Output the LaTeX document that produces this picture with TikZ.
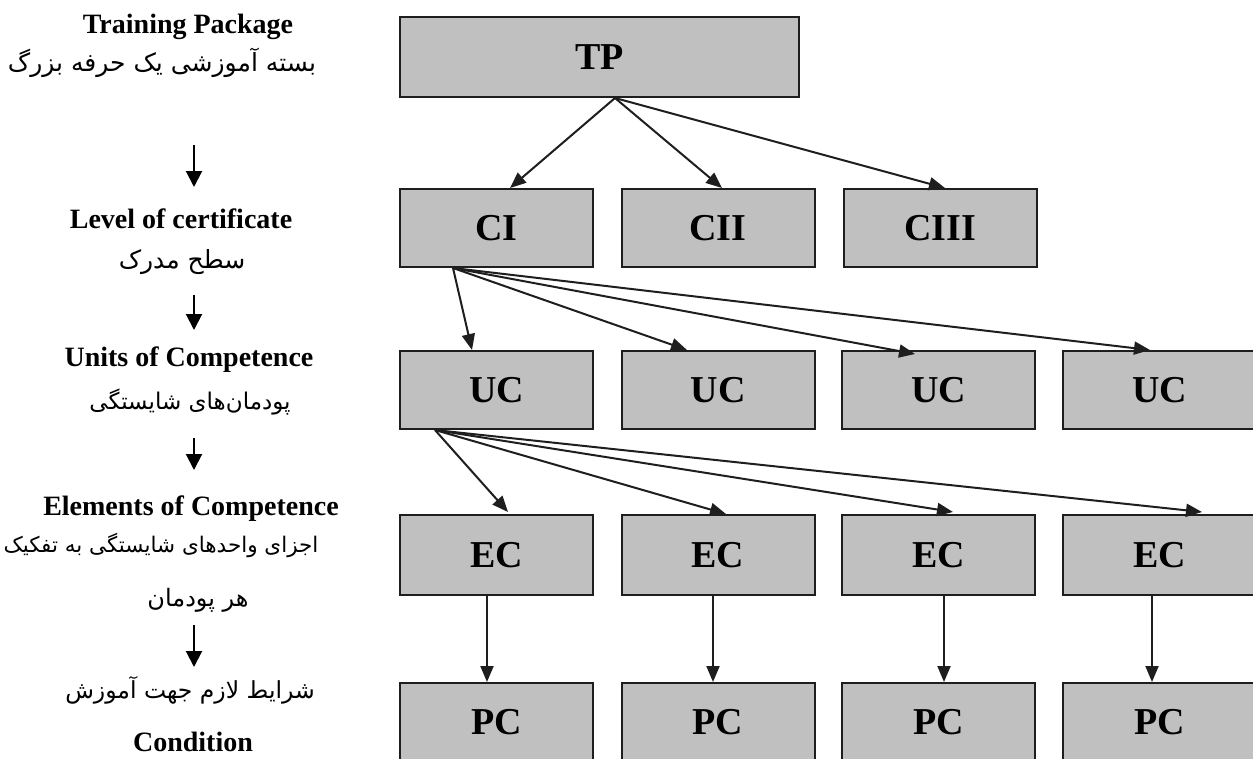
\documentclass[tikz,border=0pt]{standalone}
\usepackage{fontspec}
\setmainfont{Liberation Serif}
\newfontfamily\fa[Script=Arabic]{DejaVu Sans}
\TeXXeTstate=1
\usetikzlibrary{arrows.meta}
\definecolor{boxgray}{RGB}{192,192,192}
\definecolor{edgec}{RGB}{30,30,30}
\begin{document}
\begin{tikzpicture}[x=1pt,y=-1pt,
  box/.style={draw=edgec, line width=2pt, fill=boxgray, minimum width=193pt, minimum height=78pt, inner sep=0pt, font=\fontsize{38}{40}\selectfont\bfseries},
  en/.style={font=\fontsize{28}{32}\selectfont\bfseries, inner sep=0pt},
  fa/.style={font=\fontsize{#1}{26}\selectfont\fa, inner sep=0pt},
  fa/.default=24,
  conn/.style={line width=2pt, draw=edgec, -{Triangle[length=16pt,width=13pt]}},
  lead/.style={line width=2pt, draw=black, -{Triangle[length=16pt,width=16pt]}}]
\useasboundingbox (0,0) rectangle (1253,758);
\clip (0,0) rectangle (1253,758);
% left column
\node[en] (tpEn) at (188,27) {Training Package};
\node[fa=25] (tpFa) at (162,63) {\beginR بسته آموزشی یک حرفه بزرگ\endR};
\node[en] (lcEn) at (181,219) {Level of certificate};
\node[fa=25] (lcFa) at (182,262) {\beginR سطح مدرک\endR};
\node[en] (ucEn) at (189,360) {Units of Competence};
\node[fa=23] (ucFa) at (190,402) {\beginR پودمان‌های شایستگی\endR};
\node[en] (ecEn) at (191,509) {Elements of Competence};
\node[fa=21.5] (ecFa) at (161,545) {\beginR اجزای واحدهای شایستگی به تفکیک\endR};
\node[fa=24] (ecFb) at (198,600) {\beginR هر پودمان\endR};
\node[fa=23.5] (cdFa) at (190,690) {\beginR شرایط لازم جهت آموزش\endR};
\node[en] (cdEn) at (193,742) {Condition};
\coordinate (l1a) at (194,145); \coordinate (l1b) at (194,187);
\coordinate (l2a) at (194,295); \coordinate (l2b) at (194,330);
\coordinate (l3a) at (194,438); \coordinate (l3b) at (194,470);
\coordinate (l4a) at (194,625); \coordinate (l4b) at (194,667);
\draw[lead] (l1a) -- (l1b);
\draw[lead] (l2a) -- (l2b);
\draw[lead] (l3a) -- (l3b);
\draw[lead] (l4a) -- (l4b);
% boxes
\node[box, minimum width=399pt, minimum height=80pt] (TP) at (599.5,57) {TP};
\node[box] (CI) at (496.5,228) {CI};
\node[box] (CII) at (718,228) {CII};
\node[box] (CIII) at (940,228) {CIII};
\node[box] (UC1) at (496.5,390) {UC};
\node[box] (UC2) at (718,390) {UC};
\node[box] (UC3) at (938.5,390) {UC};
\node[box] (UC4) at (1159.5,390) {UC};
\node[box, minimum height=80pt] (EC1) at (496.5,555) {EC};
\node[box, minimum height=80pt] (EC2) at (718,555) {EC};
\node[box, minimum height=80pt] (EC3) at (938.5,555) {EC};
\node[box, minimum height=80pt] (EC4) at (1159.5,555) {EC};
\node[box] (PC1) at (496.5,722) {PC};
\node[box] (PC2) at (718,722) {PC};
\node[box] (PC3) at (938.5,722) {PC};
\node[box] (PC4) at (1159.5,722) {PC};
% connectors
\coordinate (tpo) at ([xshift=15.5pt]TP.south);
\draw[conn] (tpo) -- ([xshift=13.5pt]CI.north);
\draw[conn] (tpo) -- ([xshift=4pt]CII.north);
\draw[conn] (tpo) -- ([xshift=5pt]CIII.north);
\coordinate (cio) at ([xshift=-43.5pt]CI.south);
\draw[conn] (cio) -- ([xshift=-24.5pt]UC1.north);
\draw[conn] (cio) -- ([xshift=-31pt]UC2.north);
\draw[conn] (cio) -- ([xshift=-23.5pt,yshift=-4pt]UC3.north);
\draw[conn] (cio) -- ([xshift=-9.5pt]UC4.north);
\coordinate (uco) at ([xshift=-61.5pt]UC1.south);
\draw[conn] (uco) -- ([xshift=11.5pt,yshift=2pt]EC1.north);
\draw[conn] (uco) -- ([xshift=8pt]EC2.north);
\draw[conn] (uco) -- ([xshift=14.5pt,yshift=2pt]EC3.north);
\draw[conn] (uco) -- ([xshift=42.5pt,yshift=2pt]EC4.north);
\draw[conn] ([xshift=-9.5pt]EC1.south) -- ([xshift=-9.5pt]PC1.north);
\draw[conn] ([xshift=-5pt]EC2.south) -- ([xshift=-5pt]PC2.north);
\draw[conn] ([xshift=5.5pt]EC3.south) -- ([xshift=5.5pt]PC3.north);
\draw[conn] ([xshift=-7.5pt]EC4.south) -- ([xshift=-7.5pt]PC4.north);
\end{tikzpicture}
\end{document}
